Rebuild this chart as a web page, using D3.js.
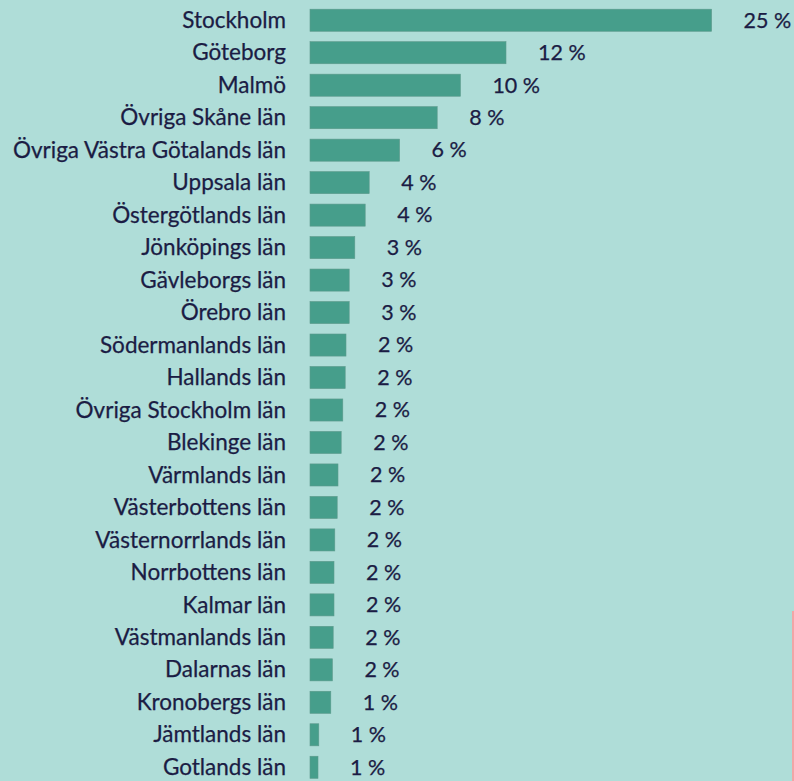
<!DOCTYPE html>
<html>
<head>
<meta charset="utf-8">
<script src="https://cdn.jsdelivr.net/npm/d3@7"></script>
<style>
  html, body { margin: 0; padding: 0; background: #afddd8; }
  svg { display: block; }
</style>
</head>
<body>
<svg width="794" height="781"></svg>
<script>
const regions = [
  "Stockholm", "Göteborg", "Malmö", "Övriga Skåne län", "Övriga Västra Götalands län",
  "Uppsala län", "Östergötlands län", "Jönköpings län", "Gävleborgs län", "Örebro län",
  "Södermanlands län", "Hallands län", "Övriga Stockholm län", "Blekinge län", "Värmlands län",
  "Västerbottens län", "Västernorrlands län", "Norrbottens län", "Kalmar län", "Västmanlands län",
  "Dalarnas län", "Kronobergs län", "Jämtlands län", "Gotlands län"
];
// estimated share in percent (bar lengths)
const shares = [
  25.1, 12.25, 9.4, 7.95, 5.6,
  3.7, 3.45, 2.8, 2.45, 2.45,
  2.25, 2.2, 2.05, 1.95, 1.75,
  1.7, 1.55, 1.5, 1.5, 1.45,
  1.4, 1.3, 0.55, 0.5
];
// labels as printed in the chart
const shareLabels = [
  "25 %", "12 %", "10 %", "8 %", "6 %",
  "4 %", "4 %", "3 %", "3 %", "3 %",
  "2 %", "2 %", "2 %", "2 %", "2 %",
  "2 %", "2 %", "2 %", "2 %", "2 %",
  "2 %", "1 %", "1 %", "1 %"
];

const data = regions.map((r, i) => ({ region: r, value: shares[i], label: shareLabels[i] }));

const svg = d3.select("svg");
const font = "Lato, 'Open Sans', sans-serif";

const x = d3.scaleLinear().domain([0, 25]).range([310, 710]);
const y = d3.scaleBand()
  .domain(regions)
  .range([4, 4 + 32.48 * regions.length])
  .paddingInner(0.32)
  .paddingOuter(0.16);

svg.append("rect")
  .attr("width", 794)
  .attr("height", 781)
  .attr("fill", "#afddd8");

const row = svg.selectAll("g.row")
  .data(data)
  .enter()
  .append("g")
  .attr("class", "row");

row.append("rect")
  .attr("x", x(0))
  .attr("y", (d) => y(d.region))
  .attr("width", (d) => x(d.value) - x(0))
  .attr("height", y.bandwidth())
  .attr("fill", "#469e8b")
  .attr("stroke", "#5d9a8c")
  .attr("stroke-width", 0.6);

row.append("text")
  .attr("x", 286)
  .attr("y", (d) => y(d.region) + y.bandwidth() / 2)
  .attr("dy", "0.34em")
  .attr("text-anchor", "end")
  .attr("fill", "#1b1c44")
  .attr("stroke", "#1b1c44")
  .attr("stroke-width", 0.25)
  .style("font-family", font)
  .style("font-size", "22.5px")
  .text((d) => d.region);

row.append("text")
  .attr("x", (d) => x(d.value) + 32)
  .attr("y", (d) => y(d.region) + y.bandwidth() / 2)
  .attr("dy", "0.34em")
  .attr("fill", "#1b1c44")
  .attr("stroke", "#1b1c44")
  .attr("stroke-width", 0.25)
  .style("font-family", font)
  .style("font-size", "21.5px")
  .text((d) => d.label);

// sliver of a neighbouring element at the right edge
svg.append("rect")
  .attr("x", 792)
  .attr("y", 611)
  .attr("width", 2)
  .attr("height", 170)
  .attr("fill", "#f3a5a6");
</script>
</body>
</html>
